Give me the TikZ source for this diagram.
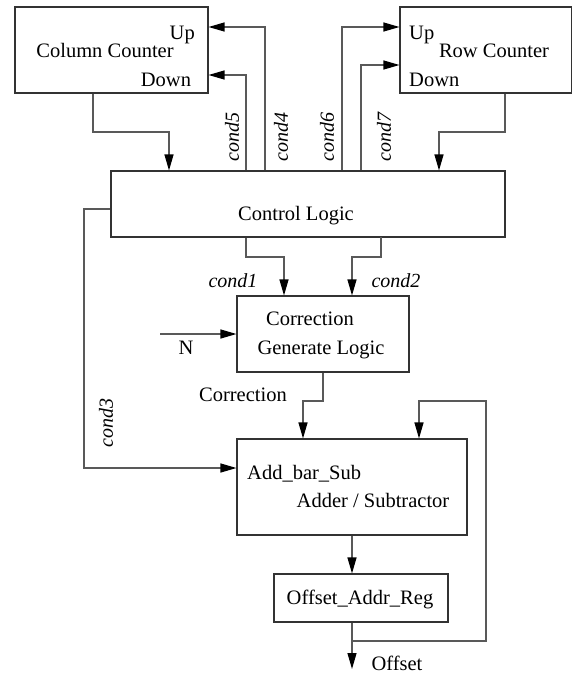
\documentclass[tikz,border=0pt]{standalone}
\usepackage{fontspec}
\setmainfont{Liberation Serif}
\usetikzlibrary{arrows.meta}
\begin{document}
\begin{tikzpicture}[x=1pt,y=-1pt,
  every node/.style={font=\fontsize{20.5}{24}\selectfont, inner sep=0pt},
  block/.style={draw=black!80, line width=1.1pt, rectangle},
  wire/.style={draw=black!65, line width=1.2pt},
  arr/.style={wire, -{Triangle[length=16pt,width=9pt,color=black]}},
  lbl/.style={anchor=base},
  cnd/.style={font=\fontsize{20}{24}\selectfont\itshape}]
\useasboundingbox (0,0) rectangle (573,675);

% blocks
\node[block, minimum width=193pt, minimum height=86pt] (col) at (111.5,50) {};
\node[block, minimum width=171.5pt, minimum height=86pt] (row) at (485.75,50) {};
\node[block, minimum width=394pt, minimum height=66pt] (cl) at (308,204) {};
\node[block, minimum width=172pt, minimum height=76pt] (corr) at (323,334) {};
\node[block, minimum width=230pt, minimum height=96pt] (add) at (352,487) {};
\node[block, minimum width=174pt, minimum height=48pt] (reg) at (361,598) {};

% texts in blocks
\node[lbl, anchor=base east] (colup) at (195,39) {Up};
\node[lbl] (colname) at (105,57) {Column Counter};
\node[lbl] (coldn) at (166,86) {Down};
\node[lbl, anchor=base west] (rowup) at (409,39) {Up};
\node[lbl] (rowname) at (494,57) {Row Counter};
\node[lbl, anchor=base west] (rowdn) at (409,86) {Down};
\node[lbl] (cltxt) at (296,220) {Control Logic};
\node[lbl] (corrt1) at (310,325) {Correction};
\node[lbl] (corrt2) at (321,354) {Generate Logic};
\node[lbl, anchor=base west] (addt1) at (247,479) {Add\_bar\_Sub};
\node[lbl] (addt2) at (373,507) {Adder / Subtractor};
\node[lbl] (regt) at (360,604) {Offset\_Addr\_Reg};

% bend points
\coordinate (x4) at (265,0);
\coordinate (x5) at (246,0);
\coordinate (x6) at (342,0);
\coordinate (x7) at (361,0);
\coordinate (xc) at (93,0);
\coordinate (xr) at (505,0);
\coordinate (xci) at (169,0);
\coordinate (xri) at (439,0);
\coordinate (yup) at (0,27);
\coordinate (ydn) at (0,75);
\coordinate (y7) at (0,65);
\coordinate (ymid) at (0,132);
\coordinate (yc3) at (0,209);
\coordinate (ya) at (0,468);
\coordinate (ybot) at (0,257);
\coordinate (yfb) at (0,401);
\coordinate (yloop) at (0,641);
\coordinate (c3x) at (84,0);
\coordinate (fbx) at (486,0);
\coordinate (nin) at (160,334);
\coordinate (outend) at (352,669);

% condition lines to the counters
\draw[arr] (x4 |- cl.north) |- (col.east |- yup);
\draw[arr] (x5 |- cl.north) |- (col.east |- ydn);
\draw[arr] (x6 |- cl.north) |- (row.west |- yup);
\draw[arr] (x7 |- cl.north) |- (row.west |- y7);

% counters to control logic
\draw[arr] (xc |- col.south) -- (xc |- ymid) -- (xci |- ymid) -- (xci |- cl.north);
\draw[arr] (xr |- row.south) -- (xr |- ymid) -- (xri |- ymid) -- (xri |- cl.north);

% cond3 path
\draw[arr] (cl.west |- yc3) -- (c3x |- yc3) -- (c3x |- ya) -- (add.west |- ya);

% cond1 / cond2
\draw[arr] (x5 |- cl.south) |- (284,257) -- (corr.north -| 284,0);
\draw[arr] (381,237) |- (352,257) -- (corr.north -| 352,0);

% N input
\draw[arr] (nin) -- (corr.west |- nin);

% correction output
\draw[arr] (corr.south -| 323,0) |- (303,401) -- (add.north -| 303,0);

% adder to register
\draw[arr] (add.south -| 352,0) -- (reg.north -| 352,0);

% register output and feedback
\draw[arr] (reg.south -| 352,0) -- (outend);
\draw[arr] (352,641) -- (fbx |- yloop) -- (fbx |- yfb) -- (419,401) -- (add.north -| 419,0);

% signal labels
\node[cnd, rotate=90] (c5) at (232,137) {cond5};
\node[cnd, rotate=90] (c4) at (281,137) {cond4};
\node[cnd, rotate=90] (c6) at (327,137) {cond6};
\node[cnd, rotate=90] (c7) at (384,137) {cond7};
\node[cnd, anchor=base] (c1) at (233,287) {cond1};
\node[cnd, anchor=base] (c2) at (396,287) {cond2};
\node[cnd, rotate=90] (c3) at (106,423) {cond3};
\node[lbl] (nlbl) at (186,354) {N};
\node[lbl] (corrlbl) at (243,401) {Correction};
\node[lbl] (offlbl) at (397,670) {Offset};
\end{tikzpicture}
\end{document}
